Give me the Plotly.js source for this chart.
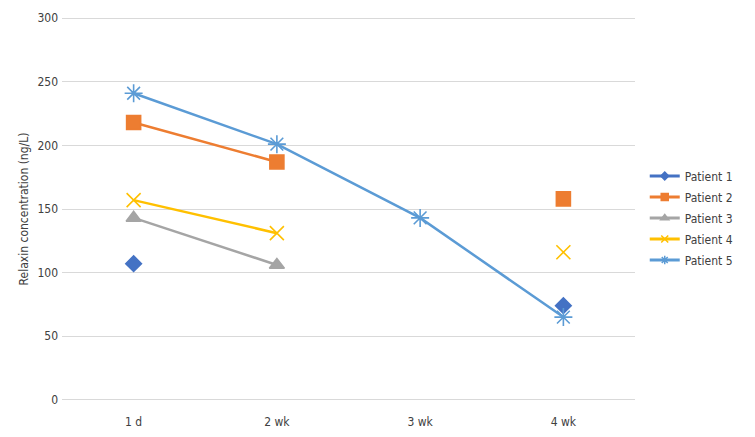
<!DOCTYPE html>
<html><head><meta charset="utf-8">
<script src="https://cdn.plot.ly/plotly-3.0.1.min.js"></script>
<style>html,body{margin:0;padding:0;background:#fff}</style>
</head><body><div id="chart" style="width:755px;height:437px"></div>
<script>
const categories = ["1 d", "2 wk", "3 wk", "4 wk"];
const patient1 = [107, null, null, 74];
const patient2 = [218, 187, null, 158];
const patient3 = [143, 106, null, null];
const patient4 = [157, 131, null, 116];
const patient5 = [241, 201, 143, 65];
const names = ["Patient 1", "Patient 2", "Patient 3", "Patient 4", "Patient 5"];
const series = [patient1, patient2, patient3, patient4, patient5];
const colors = ["#4472C4", "#ED7D31", "#A5A5A5", "#FFC000", "#5B9BD5"];
const symbols = ["diamond", "square", "triangle-up", "x-thin-open", "asterisk-open"];
const sizes = [12, 14, 13, 14, 15];
const legendSizes = [6, 7, 7, 7, 7];

const traces = series.map((s, i) => ({
  x: categories, y: s, name: names[i], type: "scatter", mode: "lines+markers",
  connectgaps: false, showlegend: false,
  line: {color: colors[i], width: 2.5},
  marker: {symbol: symbols[i], size: sizes[i], color: colors[i], line: {color: colors[i], width: 1.6}}
}));
const legendTraces = names.map((n, i) => ({
  x: [null], y: [null], name: n, type: "scatter", mode: "lines+markers",
  legendgroup: "g" + i, showlegend: true,
  line: {color: colors[i], width: 3},
  marker: {symbol: symbols[i], size: legendSizes[i], color: colors[i], line: {color: colors[i], width: 1.5}}
}));

const FONT = "DejaVu Sans Condensed, DejaVu Sans, sans-serif";
const layout = {
  width: 755, height: 437,
  margin: {l: 62, r: 120, t: 17, b: 36},
  paper_bgcolor: "#fff", plot_bgcolor: "#fff",
  font: {family: FONT, size: 12, color: "#404040"},
  xaxis: {type: "category", range: [-0.5, 3.5], showgrid: false, zeroline: false, showline: false,
    ticks: "", tickfont: {size: 12, color: "#404040"}, ticklabelstandoff: 12},
  yaxis: {range: [-1, 301], tickvals: [0, 50, 100, 150, 200, 250, 300], showgrid: true,
    gridcolor: "#d9d9d9", gridwidth: 1, zeroline: false,
    showline: false, ticks: "", tickfont: {size: 12, color: "#404040"}, ticklabelstandoff: 3,
    title: {text: "Relaxin concentration (ng/L)", font: {size: 12, color: "#404040"}, standoff: 6}},
  legend: {x: 1.017, y: 0.4766, yanchor: "middle", xanchor: "left", font: {size: 12, color: "#404040"},
    tracegroupgap: 2, itemwidth: 30},
  showlegend: true
};
Plotly.newPlot("chart", traces.concat(legendTraces), layout, {displayModeBar: false, staticPlot: true});
</script></body></html>
